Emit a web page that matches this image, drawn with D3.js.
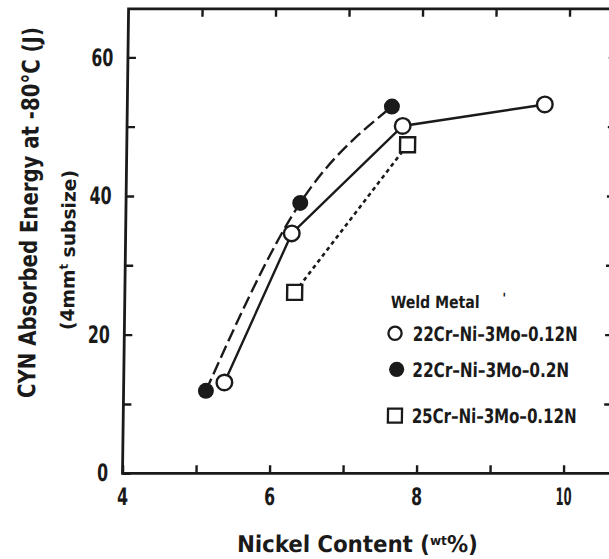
<!DOCTYPE html>
<html><head><meta charset="utf-8">
<script src="https://cdn.jsdelivr.net/npm/d3@7"></script>
<style>
html,body{margin:0;padding:0;background:#fff;}
svg{display:block;}
text{font-family:"DejaVu Sans Condensed","DejaVu Sans",sans-serif;font-stretch:condensed;font-weight:bold;fill:#1a1a1a;}
</style></head><body>
<svg id="chart" width="609" height="559"></svg>
<script>
// Nickel content (wt%) against CVN absorbed energy at -80 °C for three weld metals
const xTicks = [4, 5, 6, 7, 8, 9, 10];
const xTickLabels = ["4", "", "6", "", "8", "", "10"];
const yTicks = [0, 10, 20, 30, 40, 50, 60];
const yTickLabels = ["0", "", "20", "", "40", "", "60"];

const seriesNames = ["22Cr–Ni–3Mo–0.12N", "22Cr–Ni–3Mo–0.2N", "25Cr–Ni–3Mo–0.12N"];
const nickelA = [5.37, 6.26, 7.75, 9.68];
const energyA = [13.1, 34.6, 50.1, 53.2];
const nickelB = [5.12, 6.37, 7.60];
const energyB = [11.9, 39.0, 52.9];
const nickelC = [6.31, 7.82];
const energyC = [26.1, 47.4];

const ink = "#1a1a1a";
const svg = d3.select("#chart");

const x = d3.scaleLinear().domain([4, 10.65]).range([122.5, 611.3]);
const y = d3.scaleLinear().domain([0, 67]).range([473.3, 8.8]);

// the printed figure leans slightly; shear everything about the bottom axis
const g = svg.append("g")
  .attr("transform", `translate(0,${y(0)}) skewX(-0.75) translate(0,${-y(0)})`);

// squeeze a text horizontally so its run is `len` pixels long
function fitText(sel, tx, ty, len, rot) {
  const nat = sel.node().getComputedTextLength();
  const s = len / nat;
  sel.attr("x", 0).attr("y", 0)
    .attr("transform", `translate(${tx},${ty})${rot ? ` rotate(${rot})` : ""} scale(${s},1)`);
  return sel;
}

// frame
g.append("rect")
  .attr("x", x(4)).attr("y", y(67))
  .attr("width", x(10.65) - x(4)).attr("height", y(0) - y(67))
  .attr("fill", "none").attr("stroke", ink).attr("stroke-width", 2.8);

function styleAxis(sel, fs) {
  sel.select(".domain").remove();
  sel.selectAll(".tick line").attr("stroke", ink).attr("stroke-width", 2.4);
  sel.selectAll(".tick text")
    .attr("fill", ink)
    .style("font-size", fs + "px")
    .each(function () {
      const n = this.textContent.length;
      if (n) d3.select(this).attr("textLength", n === 1 ? 11 : (this.textContent === "10" ? 16 : 22))
        .attr("lengthAdjust", "spacingAndGlyphs");
    });
}

g.append("g").attr("transform", `translate(0,${y(0)})`)
  .call(d3.axisBottom(x).tickValues(xTicks).tickSize(-8).tickPadding(15)
    .tickFormat((d, i) => xTickLabels[i]))
  .call(s => styleAxis(s, 24));

g.append("g").attr("transform", `translate(0,${y(67)})`)
  .call(d3.axisTop(x).tickValues(xTicks.slice(1)).tickSize(-8).tickFormat(""))
  .call(s => styleAxis(s, 24));

g.append("g").attr("transform", `translate(${x(4)},0)`)
  .call(d3.axisLeft(y).tickValues(yTicks).tickSize(-8).tickPadding(14.5)
    .tickFormat((d, i) => yTickLabels[i]))
  .call(s => styleAxis(s, 24));

g.append("g").attr("transform", `translate(${x(10.65)},0)`)
  .call(d3.axisRight(y).tickValues(yTicks.slice(1)).tickSize(-8).tickFormat(""))
  .call(s => styleAxis(s, 24));

// series lines
const toPts = (xs, ys) => xs.map((v, i) => [v, ys[i]]);
const ptsA = toPts(nickelA, energyA);
const ptsB = toPts(nickelB, energyB);
const ptsC = toPts(nickelC, energyC);

const lineLin = d3.line().x(d => x(d[0])).y(d => y(d[1]));
const lineSmooth = d3.line().x(d => x(d[0])).y(d => y(d[1])).curve(d3.curveMonotoneX);

g.append("path").attr("d", lineSmooth(ptsB))
  .attr("fill", "none").attr("stroke", ink).attr("stroke-width", 2.4)
  .attr("stroke-dasharray", "13,5");
g.append("path").attr("d", lineLin(ptsA))
  .attr("fill", "none").attr("stroke", ink).attr("stroke-width", 2.4);
g.append("path").attr("d", lineLin(ptsC))
  .attr("fill", "none").attr("stroke", ink).attr("stroke-width", 2.6)
  .attr("stroke-dasharray", "4,3.5");

// markers
g.selectAll(".mA").data(ptsA).join("circle")
  .attr("cx", d => x(d[0])).attr("cy", d => y(d[1])).attr("r", 7.8)
  .attr("fill", "#fff").attr("stroke", ink).attr("stroke-width", 2.4);
g.selectAll(".mB").data(ptsB).join("circle")
  .attr("cx", d => x(d[0])).attr("cy", d => y(d[1])).attr("r", 8)
  .attr("fill", ink);
g.selectAll(".mC").data(ptsC).join("rect")
  .attr("x", d => x(d[0]) - 7.5).attr("y", d => y(d[1]) - 7.5)
  .attr("width", 15).attr("height", 15)
  .attr("fill", "#fff").attr("stroke", ink).attr("stroke-width", 2.4);

// legend
const lg = g.append("g");
fitText(lg.append("text").style("font-size", "17px").text("Weld Metal"), 388.5, 307.5, 89);
lg.append("text").attr("x", 500).attr("y", 303)
  .style("font-size", "14px").text("'");

const legY = [333.3, 369.3, 415.7];
const legW = [165, 157, 165];
lg.append("circle").attr("cx", 393.2).attr("cy", legY[0]).attr("r", 6.6)
  .attr("fill", "#fff").attr("stroke", ink).attr("stroke-width", 2.3);
lg.append("circle").attr("cx", 395.3).attr("cy", legY[1]).attr("r", 7.6)
  .attr("fill", ink);
lg.append("rect").attr("x", 394.2 - 7).attr("y", legY[2] - 7)
  .attr("width", 14).attr("height", 14)
  .attr("fill", "#fff").attr("stroke", ink).attr("stroke-width", 2.3);
seriesNames.forEach((name, i) => {
  fitText(lg.append("text").style("font-size", "20px").text(name), 411, legY[i] + 7.5, legW[i]);
});

// axis titles
const xt = g.append("text").attr("text-anchor", "middle").style("font-size", "23px");
xt.append("tspan").text("Nickel Content (");
xt.append("tspan").attr("dy", -7).style("font-size", "13px").text("wt");
xt.append("tspan").attr("dy", 7).text("%)");
fitText(xt, 358.4, 552, 241);

const yt1 = g.append("text").attr("text-anchor", "middle").style("font-size", "24px")
  .text("CYN Absorbed Energy at -80°C (J)");
fitText(yt1, 34, 212.5, 371, -90);

const yt2 = g.append("text").attr("text-anchor", "middle").style("font-size", "19px");
yt2.append("tspan").text("(4mm");
yt2.append("tspan").attr("dy", -7).style("font-size", "12px").text("t");
yt2.append("tspan").attr("dy", 7).text(" subsize)");
fitText(yt2, 72, 250, 160, -90);
</script>
</body></html>
